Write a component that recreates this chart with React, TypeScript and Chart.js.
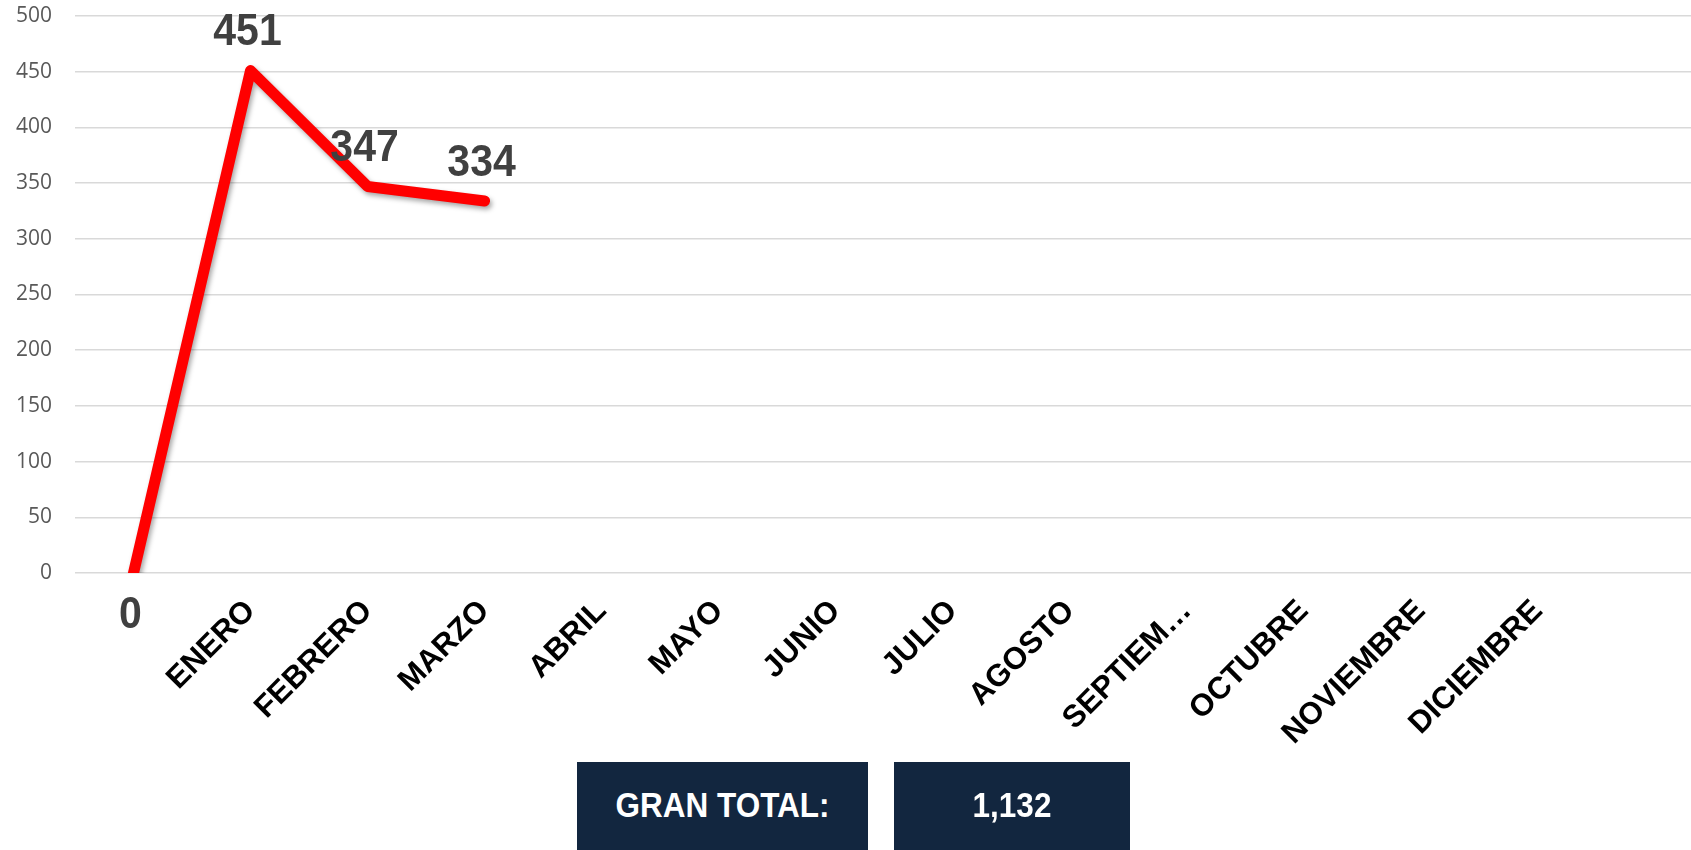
import React, { useEffect, useRef } from 'react';
import { Chart, registerables } from 'chart.js';

Chart.register(...registerables);

// ---- data ----
const CATEGORIES: string[] = [
  '',
  'ENERO',
  'FEBRERO',
  'MARZO',
  'ABRIL',
  'MAYO',
  'JUNIO',
  'JULIO',
  'AGOSTO',
  'SEPTIEM…',
  'OCTUBRE',
  'NOVIEMBRE',
  'DICIEMBRE',
];
const VALUES: number[] = [0, 451, 347, 334];
const Y_TICKS: number[] = [0, 50, 100, 150, 200, 250, 300, 350, 400, 450, 500];
const TOTAL_LABEL = 'GRAN TOTAL:';
const TOTAL_VALUE = VALUES.reduce((a, b) => a + b, 0);

const W = 1691;
const H = 850;

const shadowPlugin = {
  id: 'lineShadow',
  beforeDatasetDraw(chart: any) {
    const ctx = chart.ctx;
    ctx.save();
    ctx.shadowColor = 'rgba(0,0,0,0.35)';
    ctx.shadowBlur = 5;
    ctx.shadowOffsetX = 2;
    ctx.shadowOffsetY = 3;
  },
  afterDatasetDraw(chart: any) {
    chart.ctx.restore();
  },
};

const valueLabelPlugin = {
  id: 'valueLabels',
  afterDatasetsDraw(chart: any) {
    const ctx = chart.ctx;
    const meta = chart.getDatasetMeta(0);
    const size = 41;
    ctx.save();
    ctx.fillStyle = '#404040';
    ctx.font = `bold ${size}px "Liberation Sans", Arial, sans-serif`;
    ctx.textAlign = 'center';
    ctx.textBaseline = 'alphabetic';
    meta.data.forEach((pt: any, i: number) => {
      const v = VALUES[i];
      const dy = v === 0 ? 39 : -41.5;
      ctx.save();
      ctx.translate(pt.x - 3, pt.y + dy);
      ctx.scale(1, 1.1);
      ctx.fillText(String(v), 0, (size * 0.716) / 2);
      ctx.restore();
    });
    ctx.restore();
  },
};

export default function App() {
  const ref = useRef<HTMLCanvasElement | null>(null);

  useEffect(() => {
    if (!ref.current) return;
    const chart = new Chart(ref.current, {
      type: 'line',
      data: {
        datasets: [
          {
            data: VALUES.map((v, i) => ({ x: i, y: v })),
            borderColor: '#ff0000',
            borderWidth: 11,
            borderCapStyle: 'round',
            borderJoinStyle: 'round',
            pointRadius: 0,
            pointHoverRadius: 0,
            tension: 0,
            fill: false,
            clip: { left: false, top: false, right: false, bottom: 0 } as any,
          },
        ],
      },
      options: {
        responsive: false,
        animation: false,
        events: [],
        layout: { autoPadding: false, padding: { top: 16, left: 0, right: 0, bottom: 0 } },
        plugins: {
          legend: { display: false },
          tooltip: { enabled: false },
          title: { display: false },
        },
        scales: {
          x: {
            type: 'linear',
            min: -0.5,
            max: 13.31,
            afterBuildTicks: (s: any) => {
              s.ticks = CATEGORIES.map((_, i) => ({ value: i }));
            },
            afterFit: (s: any) => {
              s.height = H - 573;
            },
            ticks: {
              autoSkip: false,
              maxRotation: 45,
              minRotation: 45,
              padding: 12,
              color: '#000000',
              font: { family: '"Liberation Sans", Arial, sans-serif', size: 31, weight: 'bold' },
              callback: (v: any) => CATEGORIES[Math.round(Number(v))] ?? '',
            },
            grid: { display: false },
            border: { display: false },
          },
          y: {
            min: 0,
            max: 500,
            afterBuildTicks: (s: any) => {
              s.ticks = Y_TICKS.map((v) => ({ value: v }));
            },
            afterFit: (s: any) => {
              s.width = 75;
            },
            ticks: {
              padding: 0,
              color: '#595959',
              font: { family: '"Open Sans", sans-serif', size: 21 },
            },
            grid: {
              color: '#d9d9d9',
              lineWidth: 1.5,
              drawTicks: true,
              tickLength: 23,
              tickColor: 'rgba(0,0,0,0)',
            },
            border: { display: false },
          },
        },
      },
      plugins: [shadowPlugin, valueLabelPlugin],
    } as any);
    return () => chart.destroy();
  }, []);

  const boxText: React.CSSProperties = {
    display: 'inline-block',
    transform: 'scaleY(1.13)',
    fontFamily: '"Liberation Sans", Arial, sans-serif',
    fontWeight: 'bold',
    fontSize: 31.5,
    color: '#ffffff',
    lineHeight: 1,
  };
  const box: React.CSSProperties = {
    position: 'absolute',
    top: 762,
    height: H - 762,
    background: '#12263f',
    display: 'flex',
    alignItems: 'center',
    justifyContent: 'center',
  };

  return (
    <div style={{ position: 'absolute', left: 0, top: 0, width: W, height: H, background: '#ffffff', overflow: 'hidden' }}>
      <canvas ref={ref} width={W} height={H} style={{ display: 'block', position: 'absolute', left: 0, top: 0 }} />
      <div style={{ ...box, left: 577, width: 291 }}>
        <span style={boxText}>{TOTAL_LABEL}</span>
      </div>
      <div style={{ ...box, left: 894, width: 236 }}>
        <span style={boxText}>{TOTAL_VALUE.toLocaleString('en-US')}</span>
      </div>
    </div>
  );
}
